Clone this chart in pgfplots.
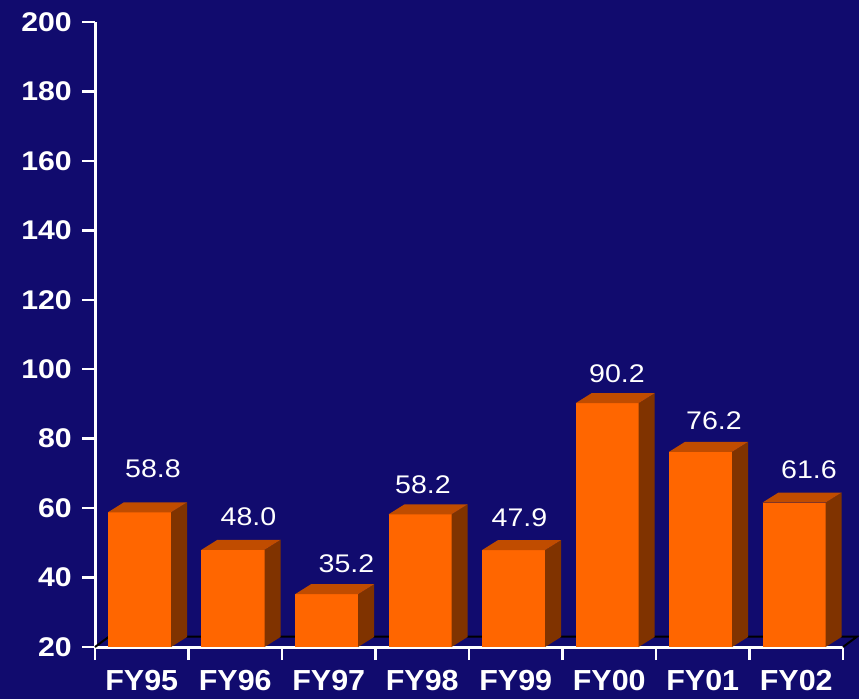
\documentclass[border=0pt]{standalone}
\usepackage{pgfplots}
\pgfplotsset{compat=1.18}
\usepackage{pgfplotstable}
\usepackage{fontspec}
\setmainfont{Liberation Sans}
\newfontfamily\numfont[FakeStretch=1.12]{Liberation Sans}
\newfontfamily\catfont[FakeStretch=1.05]{Liberation Sans}

\definecolor{bg}{RGB}{17,11,110}
\definecolor{barfront}{RGB}{255,102,0}
\definecolor{bartop}{RGB}{192,76,0}
\definecolor{barside}{RGB}{128,51,0}

% value, label, label offsets (pt)
\pgfplotstableread{
x v lab lx ly
0 58.8 58.8 13.5 35
1 48.0 48.0 15.5 24
2 35.2 35.2 20 22
3 58.2 58.2 3 21
4 47.9 47.9 6 24
5 90.2 90.2 10 21
6 76.2 76.2 13.5 22
7 61.6 61.6 15 24.5
}\data

\begin{document}
\begin{tikzpicture}
\fill[bg] (0,0) rectangle (859pt,699pt);
\begin{axis}[
  at={(95pt,52pt)}, anchor=south west,
  scale only axis, width=748pt, height=625pt,
  xmin=0, xmax=8, ymin=20, ymax=200,
  clip=false,
  axis lines*=left,
  axis line style={white, line width=3pt},
  xtick={0,...,8},
  xticklabels={FY95,FY96,FY97,FY98,FY99,FY00,FY01,FY02},
  x tick label as interval,
  ytick={20,40,...,200},
  tick align=outside,
  major tick length=13pt,
  tick style={white, line width=2.5pt},
  /pgf/number format/assume math mode=true,
  yticklabel style={white, inner sep=0pt, xshift=-10pt,
    font=\numfont\bfseries\fontsize{27}{30}\selectfont},
  xticklabel style={white, inner sep=0pt, anchor=base, yshift=-30pt,
    font=\catfont\bfseries\fontsize{29}{32}\selectfont},
]
% floor
\addplot[black, line width=2pt] coordinates {(0,20) (0.15,23) (8.15,23) (8,20)};
% 3D bars
\pgfplotsinvokeforeach{0,...,7}{
  \pgfplotstablegetelem{#1}{v}\of\data
  \pgfmathsetmacro\vv{\pgfplotsretval}
  \pgfmathsetmacro\vt{\vv+2.88}
  \pgfmathsetmacro\xa{#1+0.139}
  \pgfmathsetmacro\xb{#1+0.813}
  \pgfmathsetmacro\xc{#1+0.984}
  \pgfmathsetmacro\xd{#1+0.31}
  \edef\temp{%
    \noexpand\addplot[fill=barfront, draw=none] coordinates {(\xa,20) (\xb,20) (\xb,\vv) (\xa,\vv)};
    \noexpand\addplot[fill=barside, draw=none] coordinates {(\xb,20) (\xc,22.88) (\xc,\vt) (\xb,\vv)};
    \noexpand\addplot[fill=bartop, draw=none] coordinates {(\xa,\vv) (\xb,\vv) (\xc,\vt) (\xd,\vt)};
  }\temp
}
% value labels
\addplot[draw=none, mark=none,
  nodes near coords, point meta=explicit symbolic,
  visualization depends on={\thisrow{lx} \as \lx},
  visualization depends on={\thisrow{ly} \as \ly},
  nodes near coords style={white, anchor=base, inner sep=0pt,
    xshift=\lx pt, yshift=\ly pt,
    font=\numfont\fontsize{25.5}{28}\selectfont},
] table[x expr=\thisrow{x}+0.476, y=v, meta=lab] {\data};
\end{axis}
\pgfresetboundingbox
\path (0,0) rectangle (859pt,699pt);
\end{tikzpicture}
\end{document}
